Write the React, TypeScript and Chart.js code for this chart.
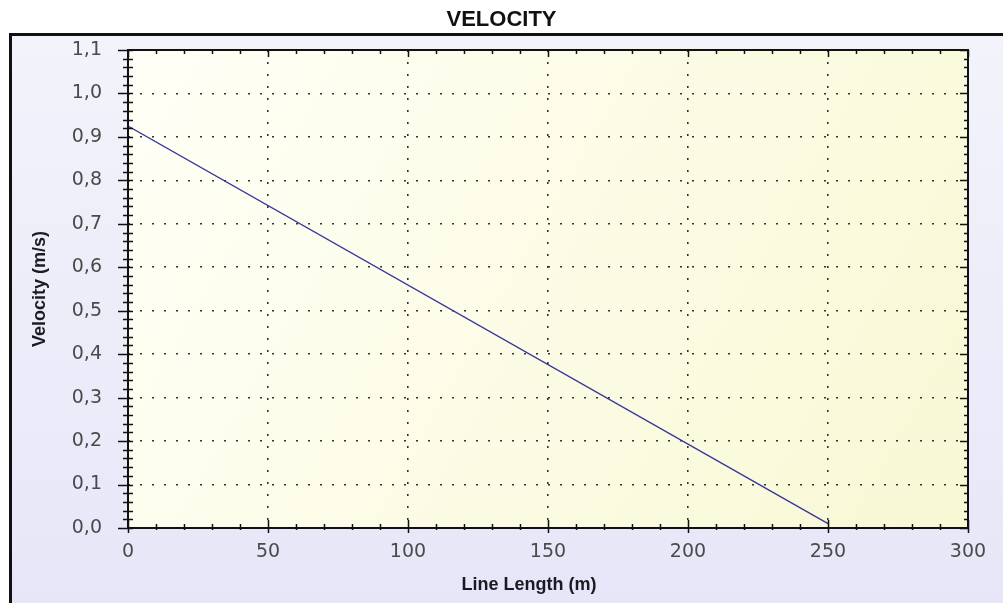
import React, { useEffect, useRef } from 'react';
import { Chart, registerables } from 'chart.js';

Chart.register(...registerables);

// ---- data ----
const lengthM = [0, 250];
const velocity = [0.925, 0.01];
const xTickValues = [0, 50, 100, 150, 200, 250, 300];
const yTickLabels = ['0,0', '0,1', '0,2', '0,3', '0,4', '0,5', '0,6', '0,7', '0,8', '0,9', '1,0', '1,1'];
const chartTitle = 'VELOCITY';
const xTitle = 'Line Length (m)';
const yTitle = 'Velocity (m/s)';

const W = 1003;
const H = 603;

const tickFont = { family: '"DejaVu Sans", Verdana, sans-serif', size: 19 };
const titleFamily = '"Liberation Sans", Arial, Helvetica, sans-serif';

const decorPlugin = {
  id: 'decor',
  beforeDraw(chart: any) {
    const ctx = chart.ctx;
    const a = chart.chartArea;
    ctx.save();
    ctx.fillStyle = '#ffffff';
    ctx.fillRect(0, 0, W, H);
    // outer panel
    const pg = ctx.createLinearGradient(0, 34, 0, H);
    pg.addColorStop(0, '#f3f3fb');
    pg.addColorStop(1, '#e6e6f8');
    ctx.fillStyle = pg;
    ctx.fillRect(10, 34, W - 10, H - 34);
    ctx.strokeStyle = '#111111';
    ctx.lineWidth = 3;
    ctx.beginPath();
    ctx.moveTo(9, 34.5);
    ctx.lineTo(W, 34.5);
    ctx.moveTo(10.5, 33);
    ctx.lineTo(10.5, H);
    ctx.stroke();
    // plot background
    const bg = ctx.createLinearGradient(a.left, a.top, a.right, a.bottom);
    bg.addColorStop(0, '#fffff7');
    bg.addColorStop(1, '#f8f8d4');
    ctx.fillStyle = bg;
    ctx.fillRect(a.left, a.top, a.right - a.left, a.bottom - a.top);
    ctx.restore();
  },
  afterDraw(chart: any) {
    const ctx = chart.ctx;
    const a = chart.chartArea;
    const xs = chart.scales.x;
    const ys = chart.scales.y;
    ctx.save();
    ctx.strokeStyle = '#111111';
    ctx.lineWidth = 1.5;
    ctx.beginPath();
    // y ticks (left & right), minor every 0.02
    for (let k = 0; k <= 55; k++) {
      const v = k * 0.02;
      const py = Math.round(ys.getPixelForValue(v)) + 0.5;
      const major = k % 5 === 0;
      ctx.moveTo(a.left - (major ? 10 : 5), py);
      ctx.lineTo(a.left + 5, py);
      ctx.moveTo(a.right - (major ? 8 : 4), py);
      ctx.lineTo(a.right, py);
    }
    // x ticks (bottom & top), minor every 10
    for (let k = 0; k <= 30; k++) {
      const v = k * 10;
      const px = Math.round(xs.getPixelForValue(v)) + 0.5;
      const major = k % 5 === 0;
      ctx.moveTo(px, a.bottom - (major ? 8 : 4));
      ctx.lineTo(px, a.bottom + (major ? 5 : 2));
      ctx.moveTo(px, a.top);
      ctx.lineTo(px, a.top + (major ? 7 : 4));
    }
    ctx.stroke();
    // plot frame
    ctx.lineWidth = 2;
    ctx.strokeRect(a.left, a.top, a.right - a.left, a.bottom - a.top);
    // x axis title
    ctx.fillStyle = '#1a1a22';
    ctx.font = 'bold 18px ' + titleFamily;
    ctx.textAlign = 'center';
    ctx.textBaseline = 'middle';
    ctx.fillText(xTitle, 529, 585);
    ctx.restore();
  },
};

export default function App() {
  const ref = useRef<HTMLCanvasElement | null>(null);

  useEffect(() => {
    const canvas = ref.current;
    if (!canvas) return;
    const chart = new Chart(canvas, {
      type: 'scatter',
      data: {
        datasets: [
          {
            label: yTitle,
            data: lengthM.map((x, i) => ({ x, y: velocity[i] })),
            showLine: true,
            borderColor: '#34349c',
            borderWidth: 1.3,
            pointRadius: 0,
            fill: false,
          },
        ],
      },
      options: {
        responsive: false,
        animation: false,
        devicePixelRatio: 1,
        layout: { padding: 0 },
        plugins: {
          legend: { display: false },
          tooltip: { enabled: false },
          title: {
            display: true,
            text: chartTitle,
            color: '#111111',
            font: { family: titleFamily, size: 22, weight: 'bold', lineHeight: 1.2 },
            padding: { top: 7, bottom: 16.6 },
          },
        },
        scales: {
          x: {
            type: 'linear',
            position: 'bottom',
            min: 0,
            max: 300,
            afterFit: (s: any) => {
              s.height = 75;
            },
            afterBuildTicks: (s: any) => {
              s.ticks = xTickValues.map((v) => ({ value: v }));
            },
            ticks: {
              autoSkip: false,
              maxRotation: 0,
              padding: 13,
              color: '#4a4a4a',
              font: tickFont,
              callback: (v: any) => String(v),
            },
            grid: {
              drawTicks: false,
              lineWidth: 1.6,
              color: (c: any) =>
                c.index === 0 || c.index === xTickValues.length - 1 ? 'rgba(0,0,0,0)' : '#333333',
            },
            border: { display: false, dash: [2, 10] },
            title: { display: false, text: xTitle },
          },
          y: {
            type: 'linear',
            position: 'left',
            min: 0,
            max: 1.1,
            afterFit: (s: any) => {
              s.width = 128;
            },
            afterBuildTicks: (s: any) => {
              s.ticks = yTickLabels.map((_, i) => ({ value: i / 10 }));
            },
            ticks: {
              autoSkip: false,
              padding: 26,
              color: '#4a4a4a',
              font: tickFont,
              callback: (v: any) => yTickLabels[Math.round(Number(v) * 10)],
            },
            grid: {
              drawTicks: false,
              lineWidth: 1.6,
              color: (c: any) =>
                c.index === 0 || c.index === yTickLabels.length - 1 ? 'rgba(0,0,0,0)' : '#333333',
            },
            border: { display: false, dash: [2, 10] },
            title: {
              display: true,
              text: yTitle,
              color: '#1a1a22',
              font: { family: titleFamily, size: 18, weight: 'bold', lineHeight: 1.2 },
              padding: { top: 29, bottom: 0 },
            },
          },
          y2: {
            type: 'linear',
            position: 'right',
            min: 0,
            max: 1.1,
            afterFit: (s: any) => {
              s.width = 35;
            },
            ticks: { display: false },
            grid: { display: false, drawTicks: false },
            border: { display: false },
          },
        },
      },
      plugins: [decorPlugin],
    } as any);
    return () => chart.destroy();
  }, []);

  return (
    <div style={{ position: 'fixed', left: 0, top: 0, width: W, height: H, background: '#ffffff' }}>
      <canvas ref={ref} width={W} height={H} style={{ display: 'block', width: W, height: H }} />
    </div>
  );
}
